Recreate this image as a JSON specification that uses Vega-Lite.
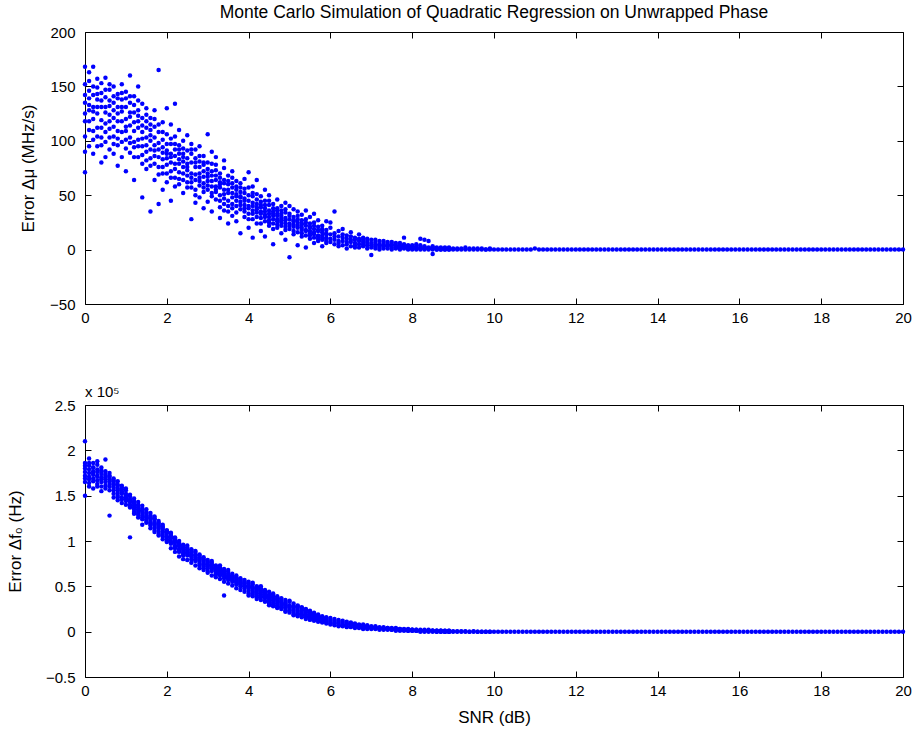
{
"$schema":"https://vega.github.io/schema/vega-lite/v6.json",
"background":"white",
"padding":{"left":5,"top":3,"right":10,"bottom":5},
"bounds":"flush",
"spacing":101,
"config":{
 "font":"Liberation Sans",
 "view":{"stroke":"#000","strokeWidth":1},
 "axis":{"domain":false,"grid":false,"ticks":true,"tickColor":"#000","tickSize":-6,"tickWidth":1,"labelFontSize":15,"labelColor":"#000","labelFont":"Liberation Sans","labelFlush":false,"titleFontSize":17,"titleFontWeight":"normal","titleColor":"#000","titleFont":"Liberation Sans"},
 "axisX":{"labelPadding":12},
 "axisY":{"labelPadding":16},
 "title":{"fontSize":17.5,"fontWeight":"normal","color":"#000","font":"Liberation Sans"}
},
"data":{"values":[
{"s":0,"m":152,"f":210000},{"s":0,"m":71,"f":150000},{"s":0,"m":168,"f":186000},{"s":0,"m":118,"f":172000},{"s":0,"m":135,"f":180000},{"s":0,"m":104,"f":165000},
{"s":0.1,"m":146,"f":183000},{"s":0.1,"m":163,"f":175000},{"s":0.1,"m":95,"f":191000},{"s":0.1,"m":128,"f":168000},{"s":0.1,"m":110,"f":179000},{"s":0.1,"m":139,"f":160000},
{"s":0.2,"m":168,"f":177000},{"s":0.2,"m":120,"f":186000},{"s":0.2,"m":101,"f":169000},{"s":0.2,"m":142,"f":181000},{"s":0.2,"m":131,"f":158000},{"s":0.2,"m":88,"f":173000},
{"s":0.3,"m":157,"f":188000},{"s":0.3,"m":138,"f":171000},{"s":0.3,"m":112,"f":176000},{"s":0.3,"m":125,"f":163000},{"s":0.3,"m":95,"f":184000},{"s":0.3,"m":149,"f":167000},
{"s":0.4,"m":119,"f":174000},{"s":0.4,"m":144,"f":181000},{"s":0.4,"m":103,"f":165000},{"s":0.4,"m":131,"f":170000},{"s":0.4,"m":80,"f":155000},{"s":0.4,"m":153,"f":178000},
{"s":0.5,"m":140,"f":168000},{"s":0.5,"m":99,"f":190000},{"s":0.5,"m":126,"f":161000},{"s":0.5,"m":116,"f":172000},{"s":0.5,"m":158,"f":177000},{"s":0.5,"m":108,"f":158000},
{"s":0.6,"m":132,"f":171000},{"s":0.6,"m":147,"f":160000},{"s":0.6,"m":111,"f":166000},{"s":0.6,"m":92,"f":175000},{"s":0.6,"m":124,"f":128000},{"s":0.6,"m":137,"f":163000},
{"s":0.7,"m":113,"f":162000},{"s":0.7,"m":150,"f":169000},{"s":0.7,"m":128,"f":156000},{"s":0.7,"m":88,"f":148000},{"s":0.7,"m":104,"f":165000},{"s":0.7,"m":141,"f":159000},
{"s":0.8,"m":125,"f":158000},{"s":0.8,"m":96,"f":166000},{"s":0.8,"m":143,"f":150000},{"s":0.8,"m":109,"f":161000},{"s":0.8,"m":77,"f":153000},{"s":0.8,"m":131,"f":145000},
{"s":0.9,"m":99,"f":155000},{"s":0.9,"m":138,"f":148000},{"s":0.9,"m":118,"f":161000},{"s":0.9,"m":85,"f":152000},{"s":0.9,"m":152,"f":142000},{"s":0.9,"m":127,"f":157000},
{"s":1,"m":120,"f":150000},{"s":1,"m":101,"f":144000},{"s":1,"m":145,"f":156000},{"s":1,"m":131,"f":140000},{"s":1,"m":72,"f":147000},{"s":1,"m":109,"f":152000},
{"s":1.1,"m":89,"f":146000},{"s":1.1,"m":135,"f":140000},{"s":1.1,"m":114,"f":151000},{"s":1.1,"m":160,"f":137000},{"s":1.1,"m":103,"f":143000},{"s":1.1,"m":122,"f":104000},
{"s":1.2,"m":117,"f":141000},{"s":1.2,"m":94,"f":147000},{"s":1.2,"m":141,"f":135000},{"s":1.2,"m":126,"f":144000},{"s":1.2,"m":99,"f":130000},{"s":1.2,"m":64,"f":139000},
{"s":1.3,"m":128,"f":137000},{"s":1.3,"m":101,"f":143000},{"s":1.3,"m":85,"f":131000},{"s":1.3,"m":150,"f":140000},{"s":1.3,"m":112,"f":126000},{"s":1.3,"m":118,"f":135000},
{"s":1.4,"m":95,"f":134000},{"s":1.4,"m":121,"f":128000},{"s":1.4,"m":134,"f":139000},{"s":1.4,"m":79,"f":131000},{"s":1.4,"m":108,"f":118000},{"s":1.4,"m":48,"f":124000},
{"s":1.5,"m":112,"f":129000},{"s":1.5,"m":90,"f":124000},{"s":1.5,"m":130,"f":135000},{"s":1.5,"m":74,"f":120000},{"s":1.5,"m":103,"f":131000},{"s":1.5,"m":118,"f":127000},
{"s":1.6,"m":84,"f":125000},{"s":1.6,"m":121,"f":120000},{"s":1.6,"m":100,"f":131000},{"s":1.6,"m":35,"f":117000},{"s":1.6,"m":110,"f":128000},{"s":1.6,"m":92,"f":122000},
{"s":1.7,"m":103,"f":121000},{"s":1.7,"m":79,"f":127000},{"s":1.7,"m":128,"f":115000},{"s":1.7,"m":91,"f":118000},{"s":1.7,"m":64,"f":124000},{"s":1.7,"m":113,"f":112000},
{"s":1.8,"m":165,"f":117000},{"s":1.8,"m":85,"f":122000},{"s":1.8,"m":98,"f":111000},{"s":1.8,"m":42,"f":119000},{"s":1.8,"m":108,"f":108000},{"s":1.8,"m":76,"f":114000},
{"s":1.9,"m":94,"f":113000},{"s":1.9,"m":117,"f":118000},{"s":1.9,"m":70,"f":107000},{"s":1.9,"m":101,"f":110000},{"s":1.9,"m":83,"f":102000},{"s":1.9,"m":55,"f":115000},
{"s":2,"m":78,"f":108000},{"s":2,"m":106,"f":112000},{"s":2,"m":91,"f":102000},{"s":2,"m":62,"f":110000},{"s":2,"m":130,"f":99000},{"s":2,"m":84,"f":105000},
{"s":2.1,"m":97,"f":103000},{"s":2.1,"m":72,"f":109000},{"s":2.1,"m":88,"f":97000},{"s":2.1,"m":115,"f":106000},{"s":2.1,"m":45,"f":92000},{"s":2.1,"m":80,"f":100000},
{"s":2.2,"m":92,"f":98000},{"s":2.2,"m":66,"f":103000},{"s":2.2,"m":104,"f":92000},{"s":2.2,"m":79,"f":101000},{"s":2.2,"m":58,"f":88000},{"s":2.2,"m":134,"f":95000},
{"s":2.3,"m":71,"f":95000},{"s":2.3,"m":96,"f":88000},{"s":2.3,"m":83,"f":98000},{"s":2.3,"m":110,"f":91000},{"s":2.3,"m":60,"f":83000},{"s":2.3,"m":88,"f":94000},
{"s":2.4,"m":85,"f":90000},{"s":2.4,"m":64,"f":96000},{"s":2.4,"m":100,"f":86000},{"s":2.4,"m":52,"f":92000},{"s":2.4,"m":76,"f":80000},{"s":2.4,"m":93,"f":88000},
{"s":2.5,"m":68,"f":88000},{"s":2.5,"m":91,"f":84000},{"s":2.5,"m":79,"f":93000},{"s":2.5,"m":57,"f":79000},{"s":2.5,"m":105,"f":90000},{"s":2.5,"m":73,"f":86000},
{"s":2.6,"m":80,"f":85000},{"s":2.6,"m":28,"f":90000},{"s":2.6,"m":88,"f":80000},{"s":2.6,"m":66,"f":87000},{"s":2.6,"m":97,"f":76000},{"s":2.6,"m":62,"f":83000},
{"s":2.7,"m":76,"f":82000},{"s":2.7,"m":55,"f":78000},{"s":2.7,"m":92,"f":88000},{"s":2.7,"m":64,"f":84000},{"s":2.7,"m":84,"f":73000},{"s":2.7,"m":43,"f":80000},
{"s":2.8,"m":59,"f":79000},{"s":2.8,"m":81,"f":84000},{"s":2.8,"m":70,"f":75000},{"s":2.8,"m":48,"f":81000},{"s":2.8,"m":95,"f":70000},{"s":2.8,"m":66,"f":77000},
{"s":2.9,"m":72,"f":77000},{"s":2.9,"m":53,"f":72000},{"s":2.9,"m":86,"f":82000},{"s":2.9,"m":61,"f":79000},{"s":2.9,"m":38,"f":68000},{"s":2.9,"m":78,"f":74000},
{"s":3,"m":67,"f":74000},{"s":3,"m":106,"f":70000},{"s":3,"m":55,"f":79000},{"s":3,"m":74,"f":76000},{"s":3,"m":44,"f":65000},{"s":3,"m":63,"f":72000},
{"s":3.1,"m":58,"f":71000},{"s":3.1,"m":79,"f":76000},{"s":3.1,"m":49,"f":67000},{"s":3.1,"m":68,"f":73000},{"s":3.1,"m":90,"f":62000},{"s":3.1,"m":35,"f":69000},
{"s":3.2,"m":64,"f":69000},{"s":3.2,"m":46,"f":64000},{"s":3.2,"m":73,"f":73000},{"s":3.2,"m":53,"f":70000},{"s":3.2,"m":85,"f":60000},{"s":3.2,"m":58,"f":66000},
{"s":3.3,"m":50,"f":66000},{"s":3.3,"m":70,"f":71000},{"s":3.3,"m":39,"f":62000},{"s":3.3,"m":62,"f":68000},{"s":3.3,"m":29,"f":58000},{"s":3.3,"m":57,"f":65000},
{"s":3.4,"m":61,"f":63000},{"s":3.4,"m":47,"f":59000},{"s":3.4,"m":75,"f":67000},{"s":3.4,"m":55,"f":65000},{"s":3.4,"m":36,"f":55000},{"s":3.4,"m":82,"f":40000},
{"s":3.5,"m":45,"f":61000},{"s":3.5,"m":60,"f":66000},{"s":3.5,"m":35,"f":57000},{"s":3.5,"m":68,"f":62000},{"s":3.5,"m":52,"f":53000},{"s":3.5,"m":24,"f":59000},
{"s":3.6,"m":57,"f":58000},{"s":3.6,"m":42,"f":55000},{"s":3.6,"m":66,"f":62000},{"s":3.6,"m":48,"f":60000},{"s":3.6,"m":31,"f":51000},{"s":3.6,"m":72,"f":57000},
{"s":3.7,"m":40,"f":56000},{"s":3.7,"m":58,"f":60000},{"s":3.7,"m":51,"f":52000},{"s":3.7,"m":26,"f":57000},{"s":3.7,"m":63,"f":48000},{"s":3.7,"m":45,"f":54000},
{"s":3.8,"m":53,"f":54000},{"s":3.8,"m":37,"f":50000},{"s":3.8,"m":61,"f":57000},{"s":3.8,"m":44,"f":55000},{"s":3.8,"m":15,"f":46000},{"s":3.8,"m":49,"f":52000},
{"s":3.9,"m":38,"f":51000},{"s":3.9,"m":52,"f":55000},{"s":3.9,"m":30,"f":48000},{"s":3.9,"m":47,"f":53000},{"s":3.9,"m":65,"f":44000},{"s":3.9,"m":41,"f":50000},
{"s":4,"m":45,"f":49000},{"s":4,"m":33,"f":42000},{"s":4,"m":57,"f":55000},{"s":4,"m":20,"f":47000},{"s":4,"m":40,"f":40000},{"s":4,"m":71,"f":53000},
{"s":4.1,"m":36,"f":46000},{"s":4.1,"m":49,"f":52000},{"s":4.1,"m":28,"f":39000},{"s":4.1,"m":43,"f":48000},{"s":4.1,"m":58,"f":43000},{"s":4.1,"m":11,"f":54000},
{"s":4.2,"m":42,"f":44000},{"s":4.2,"m":30,"f":38000},{"s":4.2,"m":51,"f":50000},{"s":4.2,"m":24,"f":46000},{"s":4.2,"m":37,"f":36000},{"s":4.2,"m":64,"f":42000},
{"s":4.3,"m":29,"f":41000},{"s":4.3,"m":44,"f":48000},{"s":4.3,"m":35,"f":35000},{"s":4.3,"m":17,"f":43000},{"s":4.3,"m":49,"f":39000},{"s":4.3,"m":39,"f":50000},
{"s":4.4,"m":38,"f":40000},{"s":4.4,"m":26,"f":34000},{"s":4.4,"m":45,"f":46000},{"s":4.4,"m":32,"f":42000},{"s":4.4,"m":12,"f":33000},{"s":4.4,"m":55,"f":37000},
{"s":4.5,"m":30,"f":37000},{"s":4.5,"m":41,"f":44000},{"s":4.5,"m":22,"f":31000},{"s":4.5,"m":36,"f":39000},{"s":4.5,"m":50,"f":29000},{"s":4.5,"m":27,"f":35000},
{"s":4.6,"m":35,"f":34000},{"s":4.6,"m":24,"f":41000},{"s":4.6,"m":42,"f":28000},{"s":4.6,"m":19,"f":36000},{"s":4.6,"m":31,"f":30000},{"s":4.6,"m":5,"f":42000},
{"s":4.7,"m":26,"f":33000},{"s":4.7,"m":38,"f":27000},{"s":4.7,"m":20,"f":39000},{"s":4.7,"m":33,"f":31000},{"s":4.7,"m":46,"f":35000},{"s":4.7,"m":28,"f":26000},
{"s":4.8,"m":31,"f":30000},{"s":4.8,"m":22,"f":37000},{"s":4.8,"m":40,"f":25000},{"s":4.8,"m":15,"f":32000},{"s":4.8,"m":27,"f":28000},{"s":4.8,"m":36,"f":36000},
{"s":4.9,"m":24,"f":29000},{"s":4.9,"m":34,"f":23000},{"s":4.9,"m":18,"f":35000},{"s":4.9,"m":29,"f":27000},{"s":4.9,"m":43,"f":31000},{"s":4.9,"m":9,"f":22000},
{"s":5,"m":28,"f":26000},{"s":5,"m":19,"f":33000},{"s":5,"m":33,"f":21000},{"s":5,"m":-7,"f":28000},{"s":5,"m":24,"f":24000},{"s":5,"m":40,"f":34000},
{"s":5.1,"m":21,"f":25000},{"s":5.1,"m":30,"f":19000},{"s":5.1,"m":14,"f":31000},{"s":5.1,"m":26,"f":23000},{"s":5.1,"m":37,"f":27000},{"s":5.1,"m":23,"f":18000},
{"s":5.2,"m":25,"f":22000},{"s":5.2,"m":16,"f":29000},{"s":5.2,"m":31,"f":17000},{"s":5.2,"m":4,"f":24000},{"s":5.2,"m":22,"f":20000},{"s":5.2,"m":35,"f":28000},
{"s":5.3,"m":18,"f":21000},{"s":5.3,"m":27,"f":16000},{"s":5.3,"m":12,"f":27000},{"s":5.3,"m":24,"f":23000},{"s":5.3,"m":32,"f":19000},{"s":5.3,"m":20,"f":26000},
{"s":5.4,"m":22,"f":19000},{"s":5.4,"m":13,"f":25000},{"s":5.4,"m":28,"f":14000},{"s":5.4,"m":17,"f":21000},{"s":5.4,"m":36,"f":17000},{"s":5.4,"m":2,"f":24000},
{"s":5.5,"m":15,"f":18000},{"s":5.5,"m":24,"f":13000},{"s":5.5,"m":10,"f":23000},{"s":5.5,"m":20,"f":19000},{"s":5.5,"m":30,"f":15000},{"s":5.5,"m":17,"f":22000},
{"s":5.6,"m":19,"f":16000},{"s":5.6,"m":11,"f":21000},{"s":5.6,"m":25,"f":12000},{"s":5.6,"m":14,"f":18000},{"s":5.6,"m":33,"f":14000},{"s":5.6,"m":6,"f":20000},
{"s":5.7,"m":13,"f":15000},{"s":5.7,"m":21,"f":11000},{"s":5.7,"m":8,"f":19000},{"s":5.7,"m":17,"f":16000},{"s":5.7,"m":27,"f":13000},{"s":5.7,"m":12,"f":18000},
{"s":5.8,"m":16,"f":13000},{"s":5.8,"m":9,"f":17000},{"s":5.8,"m":22,"f":10000},{"s":5.8,"m":11,"f":15000},{"s":5.8,"m":3,"f":11000},{"s":5.8,"m":18,"f":16000},
{"s":5.9,"m":11,"f":12000},{"s":5.9,"m":18,"f":9000},{"s":5.9,"m":6,"f":16000},{"s":5.9,"m":14,"f":13000},{"s":5.9,"m":26,"f":10000},{"s":5.9,"m":10,"f":15000},
{"s":6,"m":14,"f":11000},{"s":6,"m":7,"f":15000},{"s":6,"m":20,"f":8000},{"s":6,"m":10,"f":13000},{"s":6,"m":25,"f":9000},
{"s":6.1,"m":9,"f":10000},{"s":6.1,"m":15,"f":14000},{"s":6.1,"m":5,"f":7000},{"s":6.1,"m":12,"f":12000},{"s":6.1,"m":35,"f":9000},
{"s":6.2,"m":12,"f":9000},{"s":6.2,"m":6,"f":13000},{"s":6.2,"m":17,"f":7000},{"s":6.2,"m":8,"f":11000},{"s":6.2,"m":3,"f":6000},
{"s":6.3,"m":8,"f":8000},{"s":6.3,"m":14,"f":12000},{"s":6.3,"m":4,"f":6000},{"s":6.3,"m":11,"f":10000},{"s":6.3,"m":19,"f":7000},
{"s":6.4,"m":10,"f":8000},{"s":6.4,"m":5,"f":11000},{"s":6.4,"m":13,"f":5000},{"s":6.4,"m":7,"f":9000},{"s":6.4,"m":1,"f":6000},
{"s":6.5,"m":7,"f":7000},{"s":6.5,"m":12,"f":10000},{"s":6.5,"m":3,"f":5000},{"s":6.5,"m":9,"f":8000},{"s":6.5,"m":16,"f":9000},
{"s":6.6,"m":9,"f":6000},{"s":6.6,"m":4,"f":9000},{"s":6.6,"m":11,"f":4000},{"s":6.6,"m":6,"f":7000},{"s":6.6,"m":2,"f":8000},
{"s":6.7,"m":5,"f":6000},{"s":6.7,"m":10,"f":8000},{"s":6.7,"m":2,"f":4000},{"s":6.7,"m":8,"f":7000},{"s":6.7,"m":14,"f":5000},
{"s":6.8,"m":7,"f":5000},{"s":6.8,"m":3,"f":8000},{"s":6.8,"m":9,"f":4000},{"s":6.8,"m":5,"f":6000},{"s":6.8,"m":11,"f":3000},
{"s":6.9,"m":4,"f":5000},{"s":6.9,"m":8,"f":7000},{"s":6.9,"m":1,"f":3000},{"s":6.9,"m":6,"f":6000},{"s":6.9,"m":10,"f":4000},
{"s":7,"m":6,"f":5000},{"s":7,"m":2,"f":6000},{"s":7,"m":9,"f":4000},{"s":7,"m":4,"f":5000},{"s":7,"m":-5,"f":3000},
{"s":7.1,"m":3,"f":5000},{"s":7.1,"m":7,"f":4000},{"s":7.1,"m":1,"f":6000},{"s":7.1,"m":5,"f":3000},{"s":7.1,"m":9,"f":4000},
{"s":7.2,"m":5,"f":4000},{"s":7.2,"m":2,"f":5000},{"s":7.2,"m":8,"f":3000},{"s":7.2,"m":4,"f":4000},{"s":7.2,"m":0,"f":2000},
{"s":7.3,"m":3,"f":4000},{"s":7.3,"m":6,"f":3000},{"s":7.3,"m":1,"f":5000},{"s":7.3,"m":4,"f":3000},{"s":7.3,"m":8,"f":2000},
{"s":7.4,"m":4,"f":3000},{"s":7.4,"m":1,"f":4000},{"s":7.4,"m":7,"f":2000},{"s":7.4,"m":3,"f":3000},{"s":7.4,"m":5,"f":4000},
{"s":7.5,"m":2,"f":3000},{"s":7.5,"m":5,"f":4000},{"s":7.5,"m":0,"f":2000},{"s":7.5,"m":4,"f":3000},{"s":7.5,"m":7,"f":2000},
{"s":7.6,"m":3,"f":3000},{"s":7.6,"m":6,"f":2000},{"s":7.6,"m":1,"f":3000},{"s":7.6,"m":2,"f":4000},{"s":7.6,"m":4,"f":1000},
{"s":7.7,"m":2,"f":2000},{"s":7.7,"m":4,"f":3000},{"s":7.7,"m":0,"f":2000},{"s":7.7,"m":3,"f":1000},{"s":7.7,"m":6,"f":3000},
{"s":7.8,"m":3,"f":2000},{"s":7.8,"m":1,"f":3000},{"s":7.8,"m":5,"f":1000},{"s":7.8,"m":2,"f":2000},{"s":7.8,"m":11,"f":2000},
{"s":7.9,"m":1,"f":2000},{"s":7.9,"m":4,"f":1000},{"s":7.9,"m":2,"f":2000},{"s":7.9,"m":0,"f":3000},{"s":7.9,"m":3,"f":1000},
{"s":8,"m":2,"f":2000},{"s":8,"m":0,"f":1000},{"s":8,"m":4,"f":2000},{"s":8,"m":1,"f":1000},{"s":8,"m":3,"f":2000},
{"s":8.1,"m":1,"f":1000},{"s":8.1,"m":3,"f":2000},{"s":8.1,"m":0,"f":1000},{"s":8.1,"m":2,"f":2000},{"s":8.1,"m":5,"f":1000},
{"s":8.2,"m":2,"f":1000},{"s":8.2,"m":0,"f":1000},{"s":8.2,"m":1,"f":2000},{"s":8.2,"m":4,"f":1000},{"s":8.2,"m":10,"f":0},
{"s":8.3,"m":1,"f":1000},{"s":8.3,"m":2,"f":2000},{"s":8.3,"m":0,"f":1000},{"s":8.3,"m":3,"f":0},{"s":8.3,"m":9,"f":1000},
{"s":8.4,"m":1,"f":1000},{"s":8.4,"m":0,"f":1000},{"s":8.4,"m":2,"f":0},{"s":8.4,"m":1,"f":1000},{"s":8.4,"m":8,"f":2000},
{"s":8.5,"m":0,"f":1000},{"s":8.5,"m":1,"f":0},{"s":8.5,"m":2,"f":1000},{"s":8.5,"m":-4,"f":1000},{"s":8.5,"m":3,"f":1000},
{"s":8.6,"m":1,"f":0},{"s":8.6,"m":0,"f":1000},{"s":8.6,"m":2,"f":1000},{"s":8.6,"m":1,"f":0},{"s":8.6,"m":0,"f":1000},
{"s":8.7,"m":0,"f":1000},{"s":8.7,"m":1,"f":0},{"s":8.7,"m":1,"f":1000},{"s":8.7,"m":2,"f":0},{"s":8.7,"m":0,"f":1000},
{"s":8.8,"m":1,"f":0},{"s":8.8,"m":0,"f":1000},{"s":8.8,"m":1,"f":0},{"s":8.8,"m":2,"f":1000},{"s":8.8,"m":0,"f":0},
{"s":8.9,"m":0,"f":1000},{"s":8.9,"m":1,"f":0},{"s":8.9,"m":0,"f":0},{"s":8.9,"m":1,"f":1000},{"s":8.9,"m":2,"f":0},
{"s":9,"m":1,"f":500},{"s":9,"m":0,"f":0},{"s":9.1,"m":0,"f":0},{"s":9.1,"m":1,"f":500},{"s":9.2,"m":1,"f":0},{"s":9.2,"m":0,"f":500},
{"s":9.3,"m":2,"f":500},{"s":9.3,"m":0,"f":0},{"s":9.4,"m":0,"f":0},{"s":9.4,"m":1,"f":0},{"s":9.5,"m":1,"f":500},{"s":9.5,"m":0,"f":0},
{"s":9.6,"m":0,"f":0},{"s":9.6,"m":1,"f":0},{"s":9.7,"m":1,"f":0},{"s":9.7,"m":0,"f":0},{"s":9.8,"m":0,"f":0},{"s":9.8,"m":0,"f":0},
{"s":9.9,"m":1,"f":0},{"s":9.9,"m":0,"f":0},
{"s":10,"m":0,"f":0},{"s":10.1,"m":0,"f":0},{"s":10.2,"m":0,"f":0},{"s":10.3,"m":0,"f":0},{"s":10.4,"m":0,"f":0},{"s":10.5,"m":0,"f":0},{"s":10.6,"m":0,"f":0},{"s":10.7,"m":0,"f":0},{"s":10.8,"m":0,"f":0},{"s":10.9,"m":0,"f":0},
{"s":11,"m":1,"f":0},{"s":11.1,"m":0,"f":0},{"s":11.2,"m":0,"f":0},{"s":11.3,"m":0,"f":0},{"s":11.4,"m":0,"f":0},{"s":11.5,"m":0,"f":0},{"s":11.6,"m":0,"f":0},{"s":11.7,"m":0,"f":0},{"s":11.8,"m":0,"f":0},{"s":11.9,"m":0,"f":0},
{"s":12,"m":0,"f":0},{"s":12.1,"m":0,"f":0},{"s":12.2,"m":0,"f":0},{"s":12.3,"m":0,"f":0},{"s":12.4,"m":0,"f":0},{"s":12.5,"m":0,"f":0},{"s":12.6,"m":0,"f":0},{"s":12.7,"m":0,"f":0},{"s":12.8,"m":0,"f":0},{"s":12.9,"m":0,"f":0},
{"s":13,"m":0,"f":0},{"s":13.1,"m":0,"f":0},{"s":13.2,"m":0,"f":0},{"s":13.3,"m":0,"f":0},{"s":13.4,"m":0,"f":0},{"s":13.5,"m":0,"f":0},{"s":13.6,"m":0,"f":0},{"s":13.7,"m":0,"f":0},{"s":13.8,"m":0,"f":0},{"s":13.9,"m":0,"f":0},
{"s":14,"m":0,"f":0},{"s":14.1,"m":0,"f":0},{"s":14.2,"m":0,"f":0},{"s":14.3,"m":0,"f":0},{"s":14.4,"m":0,"f":0},{"s":14.5,"m":0,"f":0},{"s":14.6,"m":0,"f":0},{"s":14.7,"m":0,"f":0},{"s":14.8,"m":0,"f":0},{"s":14.9,"m":0,"f":0},
{"s":15,"m":0,"f":0},{"s":15.1,"m":0,"f":0},{"s":15.2,"m":0,"f":0},{"s":15.3,"m":0,"f":0},{"s":15.4,"m":0,"f":0},{"s":15.5,"m":0,"f":0},{"s":15.6,"m":0,"f":0},{"s":15.7,"m":0,"f":0},{"s":15.8,"m":0,"f":0},{"s":15.9,"m":0,"f":0},
{"s":16,"m":0,"f":0},{"s":16.1,"m":0,"f":0},{"s":16.2,"m":0,"f":0},{"s":16.3,"m":0,"f":0},{"s":16.4,"m":0,"f":0},{"s":16.5,"m":0,"f":0},{"s":16.6,"m":0,"f":0},{"s":16.7,"m":0,"f":0},{"s":16.8,"m":0,"f":0},{"s":16.9,"m":0,"f":0},
{"s":17,"m":0,"f":0},{"s":17.1,"m":0,"f":0},{"s":17.2,"m":0,"f":0},{"s":17.3,"m":0,"f":0},{"s":17.4,"m":0,"f":0},{"s":17.5,"m":0,"f":0},{"s":17.6,"m":0,"f":0},{"s":17.7,"m":0,"f":0},{"s":17.8,"m":0,"f":0},{"s":17.9,"m":0,"f":0},
{"s":18,"m":0,"f":0},{"s":18.1,"m":0,"f":0},{"s":18.2,"m":0,"f":0},{"s":18.3,"m":0,"f":0},{"s":18.4,"m":0,"f":0},{"s":18.5,"m":0,"f":0},{"s":18.6,"m":0,"f":0},{"s":18.7,"m":0,"f":0},{"s":18.8,"m":0,"f":0},{"s":18.9,"m":0,"f":0},
{"s":19,"m":0,"f":0},{"s":19.1,"m":0,"f":0},{"s":19.2,"m":0,"f":0},{"s":19.3,"m":0,"f":0},{"s":19.4,"m":0,"f":0},{"s":19.5,"m":0,"f":0},{"s":19.6,"m":0,"f":0},{"s":19.7,"m":0,"f":0},{"s":19.8,"m":0,"f":0},{"s":19.9,"m":0,"f":0},
{"s":20,"m":0,"f":0},
{"s":0,"m":125,"f":176000},{"s":0,"m":142,"f":169000},{"s":0,"m":90,"f":183000},
{"s":0.1,"m":118,"f":171000},{"s":0.1,"m":155,"f":186000},{"s":0.1,"m":133,"f":164000},
{"s":0.2,"m":109,"f":181000},{"s":0.2,"m":150,"f":166000},{"s":0.2,"m":127,"f":175000},
{"s":0.3,"m":131,"f":160000},{"s":0.3,"m":104,"f":179000},{"s":0.3,"m":143,"f":172000},
{"s":0.4,"m":137,"f":168000},{"s":0.4,"m":112,"f":160000},{"s":0.4,"m":96,"f":176000},
{"s":0.5,"m":131,"f":174000},{"s":0.5,"m":85,"f":165000},{"s":0.5,"m":147,"f":170000},
{"s":0.6,"m":118,"f":168000},{"s":0.6,"m":103,"f":156000},{"s":0.6,"m":152,"f":172000},
{"s":0.7,"m":135,"f":163000},{"s":0.7,"m":121,"f":152000},{"s":0.7,"m":97,"f":167000},
{"s":0.8,"m":118,"f":162000},{"s":0.8,"m":139,"f":156000},{"s":0.8,"m":102,"f":148000},
{"s":0.9,"m":108,"f":159000},{"s":0.9,"m":131,"f":146000},{"s":0.9,"m":144,"f":153000},
{"s":1,"m":113,"f":148000},{"s":1,"m":139,"f":158000},{"s":1,"m":93,"f":145000},
{"s":1.1,"m":126,"f":149000},{"s":1.1,"m":98,"f":144000},{"s":1.1,"m":141,"f":138000},
{"s":1.2,"m":109,"f":137000},{"s":1.2,"m":133,"f":143000},{"s":1.2,"m":85,"f":132000},
{"s":1.3,"m":95,"f":133000},{"s":1.3,"m":123,"f":139000},{"s":1.3,"m":137,"f":129000},
{"s":1.4,"m":114,"f":136000},{"s":1.4,"m":102,"f":126000},{"s":1.4,"m":87,"f":133000},
{"s":1.5,"m":96,"f":132000},{"s":1.5,"m":124,"f":122000},{"s":1.5,"m":82,"f":126000},
{"s":1.6,"m":105,"f":119000},{"s":1.6,"m":77,"f":126000},{"s":1.6,"m":115,"f":114000},
{"s":1.7,"m":96,"f":125000},{"s":1.7,"m":86,"f":110000},{"s":1.7,"m":120,"f":119000},
{"s":1.8,"m":92,"f":120000},{"s":1.8,"m":115,"f":106000},{"s":1.8,"m":69,"f":116000},
{"s":1.9,"m":89,"f":110000},{"s":1.9,"m":76,"f":116000},{"s":1.9,"m":108,"f":105000},
{"s":2,"m":97,"f":104000},{"s":2,"m":70,"f":111000},{"s":2,"m":88,"f":100000},
{"s":2.1,"m":85,"f":104000},{"s":2.1,"m":102,"f":98000},{"s":2.1,"m":66,"f":108000},
{"s":2.2,"m":74,"f":100000},{"s":2.2,"m":86,"f":94000},{"s":2.2,"m":97,"f":104000},
{"s":2.3,"m":79,"f":97000},{"s":2.3,"m":92,"f":90000},{"s":2.3,"m":65,"f":100000},
{"s":2.4,"m":70,"f":93000},{"s":2.4,"m":88,"f":84000},{"s":2.4,"m":81,"f":95000},
{"s":2.5,"m":84,"f":91000},{"s":2.5,"m":62,"f":87000},{"s":2.5,"m":76,"f":95000},
{"s":2.6,"m":70,"f":88000},{"s":2.6,"m":92,"f":84000},{"s":2.6,"m":57,"f":91000},
{"s":2.7,"m":69,"f":85000},{"s":2.7,"m":80,"f":89000},{"s":2.7,"m":50,"f":79000},
{"s":2.8,"m":76,"f":82000},{"s":2.8,"m":63,"f":73000},{"s":2.8,"m":86,"f":85000},
{"s":2.9,"m":67,"f":80000},{"s":2.9,"m":57,"f":75000},{"s":2.9,"m":80,"f":70000},
{"s":3,"m":59,"f":77000},{"s":3,"m":70,"f":73000},{"s":3,"m":80,"f":67000},
{"s":3.1,"m":63,"f":74000},{"s":3.1,"m":72,"f":70000},{"s":3.1,"m":52,"f":78000},
{"s":3.2,"m":55,"f":71000},{"s":3.2,"m":68,"f":67000},{"s":3.2,"m":78,"f":63000},
{"s":3.3,"m":60,"f":69000},{"s":3.3,"m":45,"f":64000},{"s":3.3,"m":66,"f":73000},
{"s":3.4,"m":51,"f":66000},{"s":3.4,"m":64,"f":61000},{"s":3.4,"m":42,"f":69000},
{"s":3.5,"m":55,"f":64000},{"s":3.5,"m":40,"f":60000},{"s":3.5,"m":63,"f":68000},
{"s":3.6,"m":52,"f":61000},{"s":3.6,"m":38,"f":58000},{"s":3.6,"m":61,"f":64000},
{"s":3.7,"m":49,"f":59000},{"s":3.7,"m":55,"f":55000},{"s":3.7,"m":34,"f":62000},
{"s":3.8,"m":41,"f":57000},{"s":3.8,"m":57,"f":53000},{"s":3.8,"m":48,"f":59000},
{"s":3.9,"m":45,"f":54000},{"s":3.9,"m":35,"f":50000},{"s":3.9,"m":56,"f":57000},
{"s":4,"m":38,"f":51000},{"s":4,"m":50,"f":45000},{"s":4,"m":28,"f":50000},
{"s":4.1,"m":40,"f":49000},{"s":4.1,"m":33,"f":44000},{"s":4.1,"m":52,"f":41000},
{"s":4.2,"m":34,"f":47000},{"s":4.2,"m":46,"f":40000},{"s":4.2,"m":39,"f":49000},
{"s":4.3,"m":41,"f":45000},{"s":4.3,"m":24,"f":38000},{"s":4.3,"m":33,"f":46000},
{"s":4.4,"m":30,"f":43000},{"s":4.4,"m":41,"f":38000},{"s":4.4,"m":35,"f":44000},
{"s":4.5,"m":33,"f":41000},{"s":4.5,"m":25,"f":33000},{"s":4.5,"m":45,"f":40000},
{"s":4.6,"m":28,"f":38000},{"s":4.6,"m":38,"f":32000},{"s":4.6,"m":33,"f":39000},
{"s":4.7,"m":31,"f":36000},{"s":4.7,"m":23,"f":29000},{"s":4.7,"m":36,"f":37000},
{"s":4.8,"m":25,"f":34000},{"s":4.8,"m":33,"f":27000},{"s":4.8,"m":29,"f":33000},
{"s":4.9,"m":27,"f":32000},{"s":4.9,"m":21,"f":26000},{"s":4.9,"m":37,"f":30000},
{"s":5,"m":22,"f":29000},{"s":5,"m":31,"f":23000},
{"s":5.1,"m":27,"f":28000},{"s":5.1,"m":17,"f":21000},
{"s":5.2,"m":20,"f":26000},{"s":5.2,"m":28,"f":19000},
{"s":5.3,"m":23,"f":24000},{"s":5.3,"m":15,"f":18000},
{"s":5.4,"m":18,"f":23000},{"s":5.4,"m":25,"f":16000},
{"s":5.5,"m":21,"f":21000},{"s":5.5,"m":13,"f":16000},
{"s":5.6,"m":16,"f":19000},{"s":5.6,"m":22,"f":14000},
{"s":5.7,"m":18,"f":17000},{"s":5.7,"m":10,"f":14000},
{"s":5.8,"m":13,"f":16000},{"s":5.8,"m":19,"f":12000},
{"s":5.9,"m":15,"f":14000},{"s":5.9,"m":8,"f":11000}
]},
"vconcat":[
 {"width":818,"height":272,
  "title":{"text":"Monte Carlo Simulation of Quadratic Regression on Unwrapped Phase","anchor":"middle","frame":"group","offset":4},
  "layer":[
   {"mark":{"type":"point","filled":true,"color":"#0000ff","size":20,"opacity":1,"strokeWidth":0},
    "encoding":{
     "x":{"field":"s","type":"quantitative","scale":{"domain":[0,20],"nice":false,"zero":false},"axis":{"orient":"bottom","values":[0,2,4,6,8,10,12,14,16,18,20],"title":null}},
     "y":{"field":"m","type":"quantitative","scale":{"domain":[-50,200],"nice":false,"zero":false},"axis":{"orient":"left","values":[-50,0,50,100,150,200],"title":"Error Δμ (MHz/s)","titlePadding":12}}}},
   {"mark":{"type":"point","opacity":0},
    "encoding":{
     "x":{"field":"s","type":"quantitative","axis":{"orient":"top","values":[0,2,4,6,8,10,12,14,16,18,20],"labels":false,"title":null}},
     "y":{"field":"m","type":"quantitative","axis":{"orient":"right","values":[-50,0,50,100,150,200],"labels":false,"title":null}}}}
  ],
  "resolve":{"axis":{"x":"independent","y":"independent"}}
 },
 {"width":818,"height":272,
  "title":{"text":"x 10⁵","anchor":"start","frame":"group","offset":-2,"fontSize":15},
  "layer":[
   {"mark":{"type":"point","filled":true,"color":"#0000ff","size":20,"opacity":1,"strokeWidth":0},
    "encoding":{
     "x":{"field":"s","type":"quantitative","scale":{"domain":[0,20],"nice":false,"zero":false},"axis":{"orient":"bottom","values":[0,2,4,6,8,10,12,14,16,18,20],"title":"SNR (dB)","titlePadding":11}},
     "y":{"field":"f","type":"quantitative","scale":{"domain":[-50000,250000],"nice":false,"zero":false},"axis":{"orient":"left","values":[-50000,0,50000,100000,150000,200000,250000],"labelExpr":"format(datum.value/100000,'')","title":"Error Δf₀ (Hz)","titlePadding":21}}}},
   {"mark":{"type":"point","opacity":0},
    "encoding":{
     "x":{"field":"s","type":"quantitative","axis":{"orient":"top","values":[0,2,4,6,8,10,12,14,16,18,20],"labels":false,"title":null}},
     "y":{"field":"f","type":"quantitative","axis":{"orient":"right","values":[-50000,0,50000,100000,150000,200000,250000],"labels":false,"title":null}}}}
  ],
  "resolve":{"axis":{"x":"independent","y":"independent"}}
 }
]
}
